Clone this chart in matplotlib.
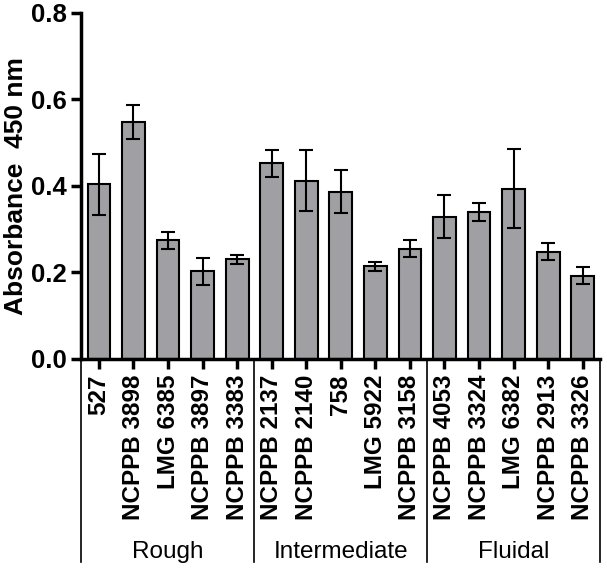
import numpy as np
from matplotlib import pyplot as plt
from matplotlib import transforms

plt.rcParams['font.family'] = ['Liberation Sans', 'DejaVu Sans']

strains = ['527', 'NCPPB 3898', 'LMG 6385', 'NCPPB 3897', 'NCPPB 3383',
           'NCPPB 2137', 'NCPPB 2140', '758', 'LMG 5922', 'NCPPB 3158',
           'NCPPB 4053', 'NCPPB 3324', 'LMG 6382', 'NCPPB 2913', 'NCPPB 3326']
absorbance = [0.404, 0.548, 0.274, 0.203, 0.230,
              0.452, 0.412, 0.387, 0.214, 0.255,
              0.329, 0.339, 0.394, 0.248, 0.193]
errors = [0.070, 0.040, 0.020, 0.031, 0.011,
          0.031, 0.071, 0.049, 0.011, 0.019,
          0.050, 0.021, 0.091, 0.020, 0.020]
groups = ['Rough', 'Intermediate', 'Fluidal']
group_size = 5

fig = plt.figure(figsize=(6.07, 5.72), dpi=100)
ax = fig.add_axes([0.1334, 0.3724, 0.855, 0.605])

x = np.arange(len(strains))
ax.bar(x, absorbance, width=0.66, color='#a0a0a4', edgecolor='black',
       linewidth=1.5, zorder=2)
ax.errorbar(x, absorbance, yerr=errors, fmt='none', ecolor='black',
            elinewidth=1.5, capsize=5, capthick=1.5, zorder=3)

ax.set_xlim(-0.52, 14.5)
ax.set_ylim(0, 0.8)
ax.set_yticks([0, 0.2, 0.4, 0.6, 0.8])
ax.set_yticklabels(['0.0', '0.2', '0.4', '0.6', '0.8'], fontsize=18.5,
                   fontweight='bold')
ax.set_xticks(x)
ax.set_xticklabels(strains, rotation=90, fontsize=17.5, fontweight='bold',
                   va='top', ha='center')
ax.tick_params(axis='both', length=7, width=2.5, direction='out')
ax.tick_params(axis='x', pad=4)
ax.tick_params(axis='y', pad=3)
ax.set_ylabel('Absorbance  450 nm', fontsize=19, fontweight='bold',
              labelpad=2)

for side in ['top', 'right']:
    ax.spines[side].set_visible(False)
for side in ['left', 'bottom']:
    ax.spines[side].set_linewidth(2.5)

# group brackets below the tick labels
trans = transforms.blended_transform_factory(ax.transData, ax.transAxes)
seps = [-0.52] + [g * group_size - 0.5 for g in range(1, len(groups))] + [14.5]
for s in seps:
    ax.plot([s, s], [0, -0.587], color='black', lw=1.2, transform=trans,
            clip_on=False)
for i, name in enumerate(groups):
    ax.text(i * group_size + 2, -0.558, name, transform=trans, ha='center',
            va='center', fontsize=17.5)

fig.savefig('out.png', dpi=100)
